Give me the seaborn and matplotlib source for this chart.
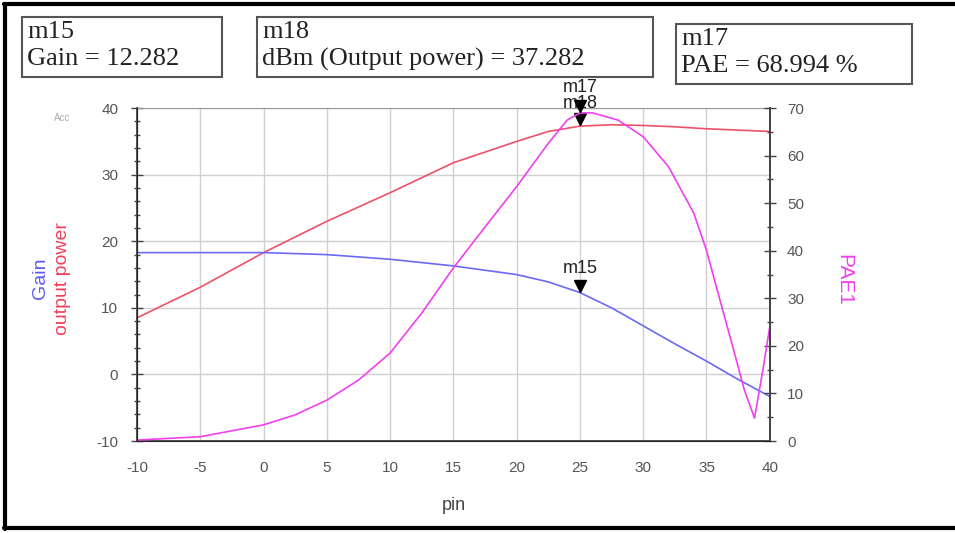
import numpy as np
import pandas as pd
import seaborn as sns
import matplotlib.pyplot as plt
from matplotlib.lines import Line2D
from matplotlib.patches import Rectangle
from matplotlib.ticker import MultipleLocator
import matplotlib.transforms as mtransforms

# values
pin = [-10, -5, 0, 5, 10, 15, 20, 22.5, 25, 27.5, 30, 32.5, 35, 37.5, 40]
gain = [18.3, 18.3, 18.3, 18.0, 17.3, 16.3, 15.0, 13.9, 12.3, 10.0, 7.3, 4.6, 2.0, -0.75, -3.3]
pout = [8.5, 13.1, 18.3, 23.0, 27.3, 31.8, 35.0, 36.5, 37.3, 37.5, 37.4, 37.2, 36.9, 36.7, 36.5]

pin_pae = [-10, -5, 0, 2.5, 5, 7.5, 10, 12.5, 15, 17.5, 20, 22.5, 24, 25, 26, 28, 30, 32, 34,
           35, 36, 37, 38, 38.8, 39.5, 40]
pae = [0.2, 0.9, 3.4, 5.5, 8.6, 12.8, 18.5, 26.9, 36.4, 45.0, 53.5, 62.6, 67.5, 68.99, 69.0,
       67.5, 64.0, 57.7, 47.9, 40.1, 30.3, 20.6, 10.7, 4.8, 15.6, 24.0]

m_pin = 25
m15_gain = 12.282
m18_pout = 37.282
m17_pae = 68.994

df = pd.DataFrame({'pin': pin, 'Gain': gain, 'output power': pout})
df_pae = pd.DataFrame({'pin': pin_pae, 'PAE1': pae})

sns.set_style('white')
plt.rcParams['font.family'] = ['Liberation Sans', 'DejaVu Sans']
plt.rcParams['axes.unicode_minus'] = False

fig = plt.figure(figsize=(9.55, 5.33), dpi=100)
ax = fig.add_axes([0.1435, 0.1726, 0.6625, 0.6245])

sns.lineplot(data=df, x='pin', y='output power', ax=ax, color='#f0506a', lw=1.2)
sns.lineplot(data=df, x='pin', y='Gain', ax=ax, color='#6a6af5', lw=1.2)

ax.set_xlim(-10, 40)
ax.set_ylim(-10, 40)
ax.xaxis.set_major_locator(MultipleLocator(5))
ax.yaxis.set_major_locator(MultipleLocator(10))
ax.yaxis.set_minor_locator(MultipleLocator(2))
ax.grid(True, which='major', color='#d0d0d0', lw=1)
ax.tick_params(axis='both', which='major', direction='inout', length=9, width=1,
               labelsize=11, labelcolor='#555555', color='#444444')
ax.tick_params(axis='y', which='major', pad=9)
ax.tick_params(axis='x', which='major', pad=10)
ax.tick_params(axis='y', which='minor', direction='inout', length=5, width=1, color='#444444')
ax.set_xlabel('pin', fontsize=13, color='#444444', labelpad=16)
ax.set_ylabel('')
for side in ['left', 'bottom', 'right']:
    ax.spines[side].set_color('#444444')
    ax.spines[side].set_linewidth(1.3)
ax.spines['top'].set_color('#999999')

ax2 = ax.twinx()
sns.lineplot(data=df_pae, x='pin', y='PAE1', ax=ax2, color='#f040f0', lw=1.2)
ax2.set_ylim(0, 70)
ax2.yaxis.set_major_locator(MultipleLocator(10))
ax2.yaxis.set_minor_locator(MultipleLocator(5))
ax2.tick_params(axis='y', which='major', direction='inout', length=9, width=1, pad=8,
                labelsize=11, labelcolor='#555555', color='#444444')
ax2.tick_params(axis='y', which='minor', direction='inout', length=5, width=1, color='#444444')
ax2.set_ylabel('')
ax2.spines['right'].set_color('#444444')
ax2.spines['right'].set_linewidth(1.3)
ax2.spines['top'].set_visible(False)

# markers
off = mtransforms.offset_copy(ax.transData, fig=fig, x=0, y=5, units='points')
off2 = mtransforms.offset_copy(ax2.transData, fig=fig, x=0, y=5, units='points')
ax.plot([m_pin], [m15_gain], marker='v', color='black', ms=8, transform=off, clip_on=False)
ax.plot([m_pin], [m18_pout], marker='v', color='black', ms=8, transform=off, clip_on=False)
ax2.plot([m_pin], [m17_pae], marker='v', color='black', ms=8, transform=off2, clip_on=False)
ax.annotate('m15', (m_pin, m15_gain), xytext=(0, 11), textcoords='offset points',
            ha='center', va='bottom', fontsize=13, color='#222222')
ax.annotate('m18', (m_pin, m18_pout), xytext=(0, 10), textcoords='offset points',
            ha='center', va='bottom', fontsize=13, color='#222222', annotation_clip=False)
ax2.annotate('m17', (m_pin, m17_pae), xytext=(0, 12), textcoords='offset points',
             ha='center', va='bottom', fontsize=13, color='#222222', annotation_clip=False)

# axis titles as in ADS
fig.text(0.042, 0.478, 'Gain', rotation=90, color='#5a5af0', fontsize=14, ha='center', va='center')
fig.text(0.065, 0.478, 'output power', rotation=90, color='#f0405a', fontsize=14, ha='center', va='center')
fig.text(0.883, 0.475, 'PAE1', rotation=270, color='#f040f0', fontsize=15, ha='center', va='center')
fig.text(0.065, 0.778, 'Acc', color='#aaaaaa', fontsize=7, ha='center', va='center')

# marker readout boxes (pixel boxes from the reference)
W, H = 955, 533
boxes = [(22, 17, 222, 77), (257, 17, 653, 77), (676, 24, 912, 84)]
lines = [('m15', 'Gain = %.3f' % m15_gain),
         ('m18', 'dBm (Output power) = %.3f' % m18_pout),
         ('m17', 'PAE = %.3f %%' % m17_pae)]
for (x0, y0, x1, y1), (t1, t2) in zip(boxes, lines):
    fig.add_artist(Rectangle((x0 / W, 1 - y1 / H), (x1 - x0) / W, (y1 - y0) / H,
                             transform=fig.transFigure, fc='white', ec='#555555', lw=1.5))
    fig.text((x0 + 5) / W, 1 - (y0 + 15) / H, t1, family='Liberation Serif', fontsize=19,
             va='center', ha='left', color='#222222')
    fig.text((x0 + 5) / W, 1 - (y0 + 42) / H, t2, family='Liberation Serif', fontsize=19,
             va='center', ha='left', color='#222222')

# black frame lines (top, left, bottom)
fig.add_artist(Line2D([0.004, 1.0], [0.992, 0.992], color='black', lw=3, transform=fig.transFigure))
fig.add_artist(Line2D([0.005, 0.005], [0.008, 0.992], color='black', lw=3, transform=fig.transFigure))
fig.add_artist(Line2D([0.004, 1.0], [0.009, 0.009], color='black', lw=3, transform=fig.transFigure))

fig.savefig('out.png', dpi=100)
